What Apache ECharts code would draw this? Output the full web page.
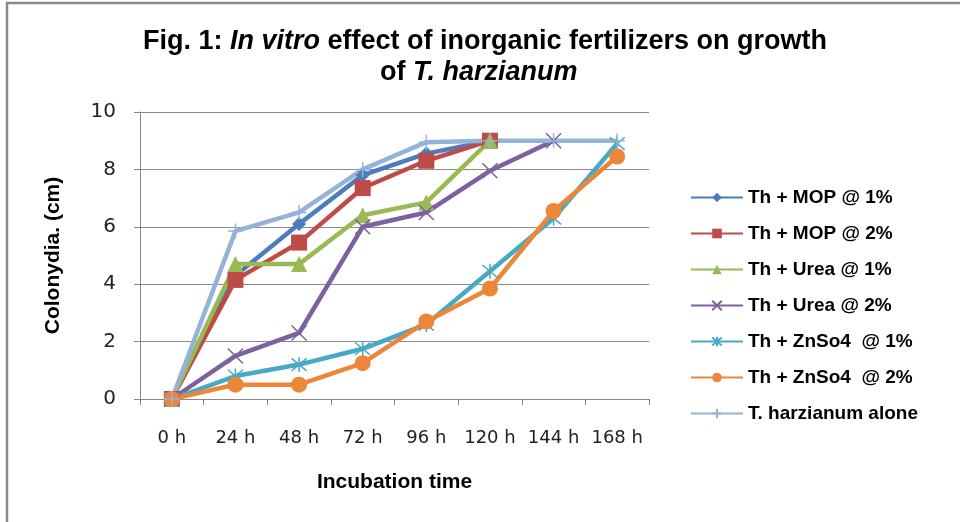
<!DOCTYPE html>
<html>
<head>
<meta charset="utf-8">
<script src="https://cdn.jsdelivr.net/npm/echarts@6/dist/echarts.min.js"></script>
<style>
  html, body { margin: 0; padding: 0; background: #fff; }
  #chart { width: 960px; height: 522px; }
</style>
</head>
<body>
<div id="chart"></div>
<script>
// incubation times (x categories)
const hours = ["0 h", "24 h", "48 h", "72 h", "96 h", "120 h", "144 h", "168 h"]

// colony diameter (cm), null = no reading
const mop1 = [0, 4.3, 6.1, 7.8, 8.55, 9.0, null, null]
const mop2 = [0, 4.15, 5.45, 7.35, 8.3, 9.0, null, null]
const urea1 = [0, 4.7, 4.7, 6.4, 6.85, 9.0, null, null]
const urea2 = [0, 1.5, 2.3, 6.0, 6.5, 7.95, 9.0, null]
const znso1 = [0, 0.8, 1.2, 1.75, 2.6, 4.45, 6.3, 8.9]
const znso2 = [0, 0.5, 0.5, 1.25, 2.7, 3.85, 6.55, 8.45]
const alone = [0, 5.85, 6.5, 8.0, 8.95, 9.0, 9.0, 9.0]

const seriesNames = [
  "Th + MOP @ 1%",
  "Th + MOP @ 2%",
  "Th + Urea @ 1%",
  "Th + Urea @ 2%",
  "Th + ZnSo4  @ 1%",
  "Th + ZnSo4  @ 2%",
  "T. harzianum alone"
]
const seriesData = [mop1, mop2, urea1, urea2, znso1, znso2, alone]
const colors = ["#4A7EBB", "#BE4B48", "#98B954", "#7D60A0", "#46AAC5", "#EC873A", "#95B3D7"]

// excel-like markers
const markers = [
  { symbol: "diamond", size: 14, stroke: false },
  { symbol: "rect", size: 16, stroke: false },
  { symbol: "triangle", size: 16, stroke: false },
  { symbol: "path://M0,0L10,10M10,0L0,10", size: 15, stroke: true },
  { symbol: "path://M0,0L10,10M10,0L0,10M5,-1L5,11", size: 15, stroke: true },
  { symbol: "circle", size: 16, stroke: false },
  { symbol: "path://M5,0L5,10M0,5L10,5", size: 15, stroke: true }
]

const chart = echarts.init(document.getElementById("chart"))

const series = seriesData.map(function (data, i) {
  const m = markers[i]
  return {
    name: seriesNames[i],
    type: "line",
    data: data,
    symbol: m.symbol,
    symbolSize: m.size,
    showAllSymbol: true,
    connectNulls: false,
    animation: false,
    lineStyle: { width: 4.5, color: colors[i] },
    itemStyle: {
      color: colors[i],
      borderColor: colors[i],
      borderWidth: m.stroke ? 1.5 : 0
    },
    emphasis: { disabled: true }
  }
})

const titleStyle = {
  fontFamily: "Liberation Sans",
  fontSize: 27,
  fontWeight: "bold",
  color: "#000",
  rich: {
    i: { fontFamily: "Liberation Sans", fontSize: 27, fontWeight: "bold", fontStyle: "italic", color: "#000" }
  }
}

const option = {
  backgroundColor: "#fff",
  color: colors,
  title: [
    {
      text: "Fig. 1: {i|In vitro} effect of inorganic fertilizers on growth",
      left: 138,
      top: 23,
      textStyle: titleStyle
    },
    {
      text: "of {i|T. harzianum}",
      left: 375,
      top: 54,
      textStyle: titleStyle
    }
  ],
  legend: {
    orient: "vertical",
    left: 690,
    top: 188,
    padding: 0,
    itemWidth: 52,
    itemHeight: 12,
    itemGap: 17,
    lineStyle: { width: 2 },
    textStyle: {
      fontFamily: "Liberation Sans",
      fontSize: 19,
      fontWeight: "bold",
      color: "#000",
      lineHeight: 17
    },
    data: seriesNames
  },
  grid: {
    left: 140,
    right: 311,
    top: 112,
    bottom: 123,
    containLabel: false
  },
  xAxis: {
    type: "category",
    data: hours,
    boundaryGap: true,
    name: "Incubation time",
    nameLocation: "middle",
    nameGap: 73,
    nameTextStyle: {
      fontFamily: "Liberation Sans",
      fontSize: 21,
      fontWeight: "bold",
      color: "#000"
    },
    axisLine: { show: true, lineStyle: { color: "#868686", width: 1 } },
    axisTick: { show: true, alignWithLabel: false, length: 6, lineStyle: { color: "#868686" } },
    axisLabel: {
      fontFamily: "DejaVu Sans",
      fontSize: 18,
      color: "#222",
      margin: 30,
      interval: 0
    },
    splitLine: { show: false }
  },
  yAxis: {
    type: "value",
    min: 0,
    max: 10,
    interval: 2,
    name: "Colonydia. (cm)",
    nameLocation: "middle",
    nameGap: 76,
    nameRotate: 90,
    nameTextStyle: {
      fontFamily: "Liberation Sans",
      fontSize: 21,
      fontWeight: "bold",
      color: "#000"
    },
    axisLine: { show: true, lineStyle: { color: "#868686", width: 1 } },
    axisTick: { show: true, length: 6, lineStyle: { color: "#868686" } },
    axisLabel: {
      fontFamily: "DejaVu Sans",
      fontSize: 20,
      color: "#222",
      margin: 24
    },
    splitLine: { show: true, lineStyle: { color: "#8C8C8C", width: 1 } }
  },
  graphic: [
    {
      type: "polyline",
      shape: { points: [[7, 522], [7, 3], [960, 3]] },
      style: { stroke: "#8A8A8A", lineWidth: 2.5, fill: null },
      silent: true
    }
  ],
  series: series
}

chart.setOption(option)
</script>
</body>
</html>
